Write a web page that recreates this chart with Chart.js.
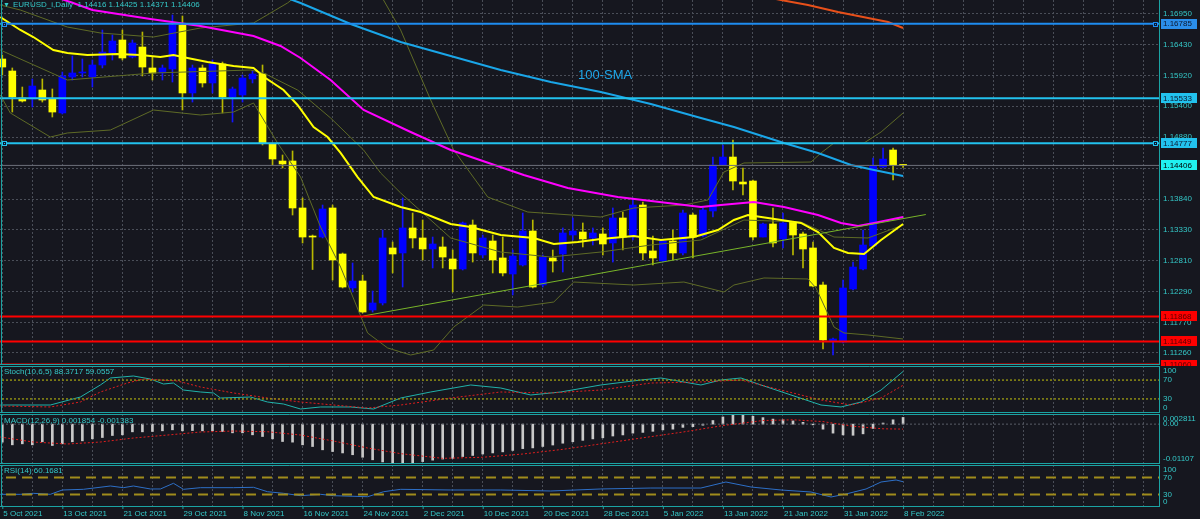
<!DOCTYPE html>
<html lang="en">
<head>
<meta charset="UTF-8">
<title>EURUSD Daily</title>
<script src="https://cdn.jsdelivr.net/npm/chart.js@4.4.1/dist/chart.umd.min.js"></script>
<style>
  html, body { margin: 0; padding: 0; background: #16171f; }
  #wrap { position: relative; width: 1200px; height: 519px; overflow: hidden; background: #16171f;
          font-family: 'Liberation Sans', Arial, sans-serif; }
  canvas { position: absolute; left: 0; }
  .lbl { position: absolute; color: #34c8c8; font-size: 8px; line-height: 10px; white-space: nowrap; }
</style>
</head>
<body>
<div id="wrap">
  <canvas id="main" width="1200" height="366" style="top:0"></canvas>
  <canvas id="stoch" width="1200" height="47" style="top:366px"></canvas>
  <canvas id="macd" width="1200" height="51" style="top:413px"></canvas>
  <canvas id="rsi" width="1200" height="55" style="top:464px"></canvas>
  <div class="lbl" style="left:3px;top:0;font-size:7px">&#9660;</div>
  <div class="lbl" style="left:13px;top:0">EURUSD_i,Daily&nbsp; 1.14416 1.14425 1.14371 1.14406</div>
  <div class="lbl" style="left:578px;top:67px;font-size:13px;line-height:15px;color:#1ea6e8">100-SMA</div>
  <div class="lbl" style="left:4px;top:367px">Stoch(10,6,5) 88.3717 59.0557</div>
  <div class="lbl" style="left:4px;top:416px">MACD(12,26,9) 0.001854 -0.001383</div>
  <div class="lbl" style="left:4px;top:466px">RSI(14) 60.1681</div>
</div>
<script>
// ---- data (bar index 0 = 5 Oct 2021, 90 = 8 Feb 2022) ----
const opens = [1.16194,1.15992,1.15539,1.15522,1.15673,1.15522,1.15287,1.15891,1.15959,1.15891,
  1.16093,1.16295,1.16513,1.16227,1.16395,1.16043,1.15959,1.16026,1.16765,1.15623,
  1.16043,1.15791,1.16110,1.15555,1.15589,1.15858,1.15942,1.14766,1.14480,1.14480,
  1.13691,1.13220,1.13203,1.13691,1.12918,1.12347,1.12464,1.11977,1.12095,1.13019,
  1.12935,1.13355,1.13187,1.13002,1.13036,1.12834,1.12666,1.13405,1.12901,1.13136,
  1.12851,1.12582,1.12733,1.13304,1.12397,1.12851,1.12918,1.13237,1.13287,1.13187,
  1.13254,1.13103,1.13523,1.13203,1.13741,1.12969,1.12800,1.13136,1.12935,1.13573,
  1.13220,1.13640,1.14413,1.14547,1.14127,1.14144,1.13203,1.13422,1.13170,1.13455,
  1.13254,1.13019,1.12397,1.11456,1.11439,1.12330,1.12666,1.13052,1.14379,1.14665,
  1.14416];
const highs = [1.16261,1.16043,1.15723,1.15858,1.15858,1.15690,1.15975,1.16244,1.16194,1.16177,
  1.16681,1.16597,1.16681,1.16513,1.16647,1.16227,1.16093,1.16933,1.16916,1.16093,
  1.16093,1.16177,1.16143,1.15723,1.15925,1.16009,1.16093,1.14783,1.14581,1.14649,
  1.13859,1.13237,1.13741,1.13741,1.12935,1.12767,1.12565,1.12296,1.13321,1.13119,
  1.13859,1.13607,1.13489,1.13203,1.13203,1.12985,1.13455,1.13489,1.13237,1.13237,
  1.13203,1.12985,1.13607,1.13489,1.12901,1.12985,1.13355,1.13523,1.13439,1.13355,
  1.13355,1.13691,1.13623,1.13859,1.13791,1.13220,1.13153,1.13321,1.13657,1.13607,
  1.13691,1.14547,1.14749,1.14833,1.14363,1.14161,1.13439,1.13691,1.13607,1.13455,
  1.13287,1.13119,1.12447,1.11507,1.12481,1.12783,1.13321,1.14531,1.14699,1.14699,
  1.14425];
const lows = [1.15925,1.15303,1.15471,1.15387,1.15471,1.15219,1.15270,1.15841,1.15891,1.15723,
  1.16043,1.16177,1.16177,1.16211,1.15909,1.15841,1.15841,1.15807,1.15337,1.15471,
  1.15723,1.15623,1.15287,1.15135,1.15471,1.15791,1.14749,1.14413,1.14363,1.13573,
  1.13103,1.12657,1.13187,1.12481,1.12347,1.12279,1.11927,1.11943,1.12061,1.12599,
  1.12363,1.13019,1.12817,1.12683,1.12683,1.12279,1.12649,1.12783,1.12851,1.12599,
  1.12549,1.12229,1.12716,1.12347,1.12363,1.12615,1.12615,1.13153,1.13036,1.13069,
  1.12901,1.12783,1.12985,1.13153,1.12817,1.12733,1.12783,1.12817,1.12901,1.12851,
  1.13203,1.13539,1.14413,1.13993,1.13909,1.13153,1.13203,1.13036,1.13019,1.12901,
  1.12683,1.12363,1.11322,1.11221,1.11423,1.12313,1.12649,1.13036,1.14363,1.14161,
  1.14371];
const closes = [1.16059,1.15555,1.15488,1.15740,1.15505,1.15303,1.15909,1.15959,1.15975,1.16093,
  1.16311,1.16496,1.16211,1.16463,1.16059,1.15959,1.16043,1.16765,1.15623,1.16043,
  1.15791,1.16110,1.15555,1.15690,1.15875,1.15942,1.14783,1.14514,1.14430,1.13691,
  1.13203,1.13203,1.13674,1.12817,1.12363,1.12464,1.11943,1.12095,1.13187,1.12918,
  1.13355,1.13187,1.13002,1.13086,1.12867,1.12666,1.13439,1.12935,1.13187,1.12817,
  1.12599,1.12884,1.13304,1.12363,1.12867,1.12800,1.13271,1.13304,1.13170,1.13271,
  1.13086,1.13523,1.13203,1.13741,1.12935,1.12851,1.13136,1.12935,1.13607,1.13203,
  1.13657,1.14413,1.14547,1.14144,1.14094,1.13203,1.13422,1.13103,1.13439,1.13237,
  1.13002,1.12380,1.11473,1.11490,1.12347,1.12699,1.13069,1.14396,1.14513,1.14413,
  1.14406];

// indicator lines: bar index / value pairs
const ma20X = [-0.2,1.8,3.1,5.1,6.5,8.5,11.5,13.8,15.8,17.1,18.5,20.5,23.1,25.1,26.3,28.1,29.5,31.1,32.5,33.8,35.5,37.1,39.8,41.8,44.8,46.8,49.8,53.1,55.1,57.5,59.8,63.1,65.8,69.1,71.5,73.1,74.5,76.5,79.8,81.5,83.1,84.5,86.1,87.8,90];
const ma20Y = [1.16899,1.16681,1.16563,1.16345,1.16295,1.16261,1.16278,1.16261,1.16227,1.16261,1.16211,1.16143,1.16076,1.16043,1.15875,1.15673,1.15421,1.15051,1.14883,1.14615,1.14211,1.13875,1.13707,1.13623,1.13422,1.13371,1.13237,1.13187,1.13086,1.13119,1.13170,1.13220,1.13153,1.13203,1.13321,1.13489,1.13573,1.13523,1.13439,1.13287,1.13019,1.12935,1.12918,1.13153,1.13422];
const sma50X = [3.8,6.8,9.0,14.8,19.8,25.1,27.8,29.8,32.8,36.1,40.8,44.8,52.1,56.5,61.5,66.5,69.8,71.8,75.1,78.1,81.5,83.8,85.5,87.1,90];
const sma50Y = [1.17319,1.17151,1.17017,1.16866,1.16748,1.16580,1.16412,1.16211,1.15841,1.15337,1.14967,1.14665,1.14245,1.14027,1.13875,1.13775,1.13707,1.13741,1.13791,1.13707,1.13573,1.13439,1.13388,1.13439,1.13539];
const sma100X = [26.8,29.8,34.8,39.8,44.8,49.8,54.8,59.8,64.8,69.8,73.1,78.1,81.5,84.8,87.1,90];
const sma100Y = [1.17319,1.17135,1.16782,1.16479,1.16244,1.16009,1.15807,1.15639,1.15438,1.15203,1.15051,1.14783,1.14615,1.14413,1.14329,1.14228];
const sma200X = [75.8,77.8,80.5,83.5,86.5,88.5,90];
const sma200Y = [1.17253,1.17185,1.17101,1.16983,1.16883,1.16815,1.16714];
const bbUpX = [-0.2,1.8,6.5,9.8,15.1,19.8,25.1,28.5,30.8,34.8,37.8,39.8,42.8,45.1,48.5,52.5,59.8,63.1,68.1,70.5,72.1,74.1,80.8,81.8,83.1,86.1,87.8,90];
const bbUpY = [1.17101,1.17017,1.16731,1.16631,1.16563,1.16715,1.16799,1.17135,1.17437,1.17689,1.17269,1.16681,1.15505,1.14665,1.13875,1.13623,1.13539,1.13691,1.13741,1.13825,1.14295,1.14447,1.14463,1.14615,1.14783,1.14783,1.14967,1.15287];
const bbMidX = [-0.2,6.5,15.1,24.8,26.1,29.5,32.8,36.1,37.8,39.8,44.8,49.8,54.8,59.8,64.8,69.8,74.1,79.8,83.1,86.5,90];
const bbMidY = [1.16345,1.15841,1.15959,1.16009,1.15959,1.15673,1.15203,1.14665,1.14279,1.13943,1.13187,1.12951,1.12867,1.12951,1.13069,1.13153,1.13489,1.13455,1.13203,1.13187,1.13405];
const bbLowX = [-0.2,0.8,4.8,6.5,10.8,15.1,19.8,23.1,25.1,27.5,29.8,31.8,33.8,36.5,38.5,40.8,43.1,45.1,48.1,51.5,55.1,57.1,63.1,68.1,72.1,73.1,76.1,80.5,81.3,83.1,84.1,86.5,90];
const bbLowY = [1.15589,1.15287,1.14883,1.14951,1.15001,1.15337,1.15253,1.15303,1.15455,1.14783,1.14211,1.13371,1.12699,1.11591,1.11339,1.11221,1.11305,1.11691,1.12061,1.12027,1.12111,1.12447,1.12397,1.12447,1.12279,1.12397,1.12515,1.12498,1.12347,1.11691,1.11591,1.11557,1.11490];
const trendX = [36.07, 92.27];
const trendY = [1.11876, 1.13581];

const levelBlue = [1.16785];
const levelCyan = [1.15533, 1.14777];
const levelRed = [1.11868, 1.11449, 1.11060];
const lastPrice = 1.14406;
const priceTicks = [1.16950,1.16430,1.15920,1.15400,1.14880,1.14360,1.13840,1.13330,1.12810,1.12290,1.11770,1.11260];

const stochMainX = [-0.2,4.8,7.8,9.8,10.8,13.1,14.8,16.1,17.1,18.1,19.8,21.1,21.8,24.8,26.5,28.1,29.8,31.8,34.8,37.1,39.8,42.8,46.8,49.8,52.8,55.8,59.8,63.8,65.8,69.8,71.8,73.8,75.8,78.8,81.8,83.8,85.8,87.8,90];
const stochMainY = [17,17,34,59.6,74.5,78.7,72.3,61.7,63.8,48.9,44.7,42.6,31.9,34,23.4,19.1,8.5,12.8,12.8,8.5,31.9,44.7,59.6,53.2,38.3,44.7,59.6,70.2,74.5,59.6,70.2,74.5,59.6,38.3,17,12.8,23.4,48.9,88.37];
const stochSigX = [-0.2,4.8,7.8,9.8,12.5,14.1,17.5,19.8,23.1,26.5,29.8,33.1,36.5,39.8,44.8,49.8,54.8,59.8,64.8,69.8,73.8,77.8,81.8,84.8,87.8,90];
const stochSigY = [14.9,12.8,23.4,44.7,63.8,72.3,68.1,55.3,42.6,31.9,23.4,17,10.6,17,31.9,44.7,42.6,48.9,63.8,66,70.2,48.9,27.7,17,31.9,59.06];

const macdHist = [-0.00500,-0.00575,-0.00547,-0.00575,-0.00491,-0.00594,-0.00547,-0.00491,-0.00464,-0.00408,
  -0.00372,-0.00316,-0.00297,-0.00214,-0.00214,-0.00205,-0.00186,-0.00158,-0.00186,-0.00178,
  -0.00186,-0.00186,-0.00205,-0.00242,-0.00242,-0.00297,-0.00344,-0.00408,-0.00483,-0.00500,
  -0.00575,-0.00622,-0.00713,-0.00761,-0.00800,-0.00850,-0.00920,-0.00990,-0.01050,-0.01107,
  -0.01100,-0.01070,-0.01040,-0.01000,-0.00970,-0.00950,-0.00900,-0.00870,-0.00830,-0.00800,
  -0.00770,-0.00730,-0.00680,-0.00660,-0.00620,-0.00580,-0.00530,-0.00490,-0.00450,-0.00410,
  -0.00380,-0.00330,-0.00300,-0.00250,-0.00230,-0.00200,-0.00160,-0.00140,-0.00090,-0.00070,
  -0.00030,0.00100,0.00200,0.00260,0.002811,0.00220,0.00180,0.00140,0.00120,0.00090,
  0.00050,-0.00020,-0.00140,-0.00250,-0.00300,-0.00310,-0.00270,-0.00120,0.00030,0.00120,
  0.001854];
const macdSigX = [-0.2,3.1,6.5,9.8,13.1,16.5,19.8,23.1,26.5,29.8,33.1,36.5,39.8,44,48,52,56,60,64,68,72,76,79,82,85,88,90];
const macdSigY = [-0.00358,-0.00497,-0.00552,-0.00497,-0.00386,-0.00303,-0.00219,-0.00192,-0.00211,-0.00303,-0.00469,-0.00663,-0.00820,-0.00950,-0.00920,-0.00830,-0.00700,-0.00540,-0.00380,-0.00220,-0.00040,0.00100,0.00120,0.00070,-0.00060,-0.00130,-0.001383];

const rsiX = [-0.2,1.8,3.1,4.8,6,8.1,10.8,12.1,13.1,14.8,15.8,17.1,18.1,19.8,23.1,25.1,26.5,28.1,29.8,31.8,33.1,36.5,38.1,39.8,44.8,49.8,54.8,59.8,64.8,69.8,72.3,74.8,77.8,80.8,82.8,84.3,86.3,87.8,89.3,90];
const rsiY = [30.2,30.2,32.6,30.2,40.5,42.1,50,46,50,42.9,42.9,56.4,42.1,46,46,46.9,36.4,32.6,26.9,30.2,26.9,24.5,36.4,42.1,40.5,40.5,38.1,42.9,45.2,45.2,59.5,47.6,40.5,35.7,23.8,31,42.9,59.5,64.3,60.17];

const dateLabels = ['5 Oct 2021','13 Oct 2021','21 Oct 2021','29 Oct 2021','8 Nov 2021','16 Nov 2021','24 Nov 2021',
  '2 Dec 2021','10 Dec 2021','20 Dec 2021','28 Dec 2021','5 Jan 2022','13 Jan 2022','21 Jan 2022','31 Jan 2022','8 Feb 2022'];

// ---- look ----
const BG = '#16171f', GRID = '#4a4e58', FRAME = '#1ba3a3', TXT = '#34c8c8';
const FONT = "8px 'Liberation Sans', Arial, sans-serif";
const X_MIN = -0.23, X_MAX = 115.57;
const gridIdx = [];
for (let i = 0; i <= 114; i += 3) gridIdx.push(i);

const pts = (xs, ys) => xs.map((x, i) => ({ x: x, y: ys[i] }));
const hline = v => [{ x: X_MIN - 1, y: v }, { x: X_MAX + 1, y: v }];

function xScale() {
  return {
    type: 'linear', min: X_MIN, max: X_MAX, offset: false,
    afterBuildTicks: s => { s.ticks = gridIdx.map(v => ({ value: v })); },
    afterFit: s => { s.height = 0; s.paddingLeft = 0; s.paddingRight = 0; },
    grid: { color: GRID, drawTicks: false, offset: false },
    border: { display: false, dash: [2, 2] },
    ticks: { display: false }
  };
}
function yScale(min, max, ticks) {
  return {
    position: 'right', min: min, max: max,
    afterBuildTicks: s => { s.ticks = (ticks || []).map(v => ({ value: v })); },
    afterFit: s => { s.width = 41; s.paddingTop = 0; s.paddingBottom = 0; },
    grid: { display: !!ticks, color: GRID, drawTicks: false },
    border: { display: false, dash: [2, 2] },
    ticks: { display: false }
  };
}

// frame + axis text for every panel
function panelPlugin(opts) {
  return {
    id: 'panel',
    beforeDraw(chart) {
      const c = chart.ctx;
      c.save(); c.fillStyle = BG; c.fillRect(0, 0, chart.width, chart.height); c.restore();
    },
    afterDraw(chart) {
      const c = chart.ctx, a = chart.chartArea, ys = chart.scales.y;
      c.save();
      c.strokeStyle = FRAME; c.lineWidth = 1;
      c.beginPath();
      c.moveTo(1.5, a.top); c.lineTo(1.5, a.bottom);
      c.moveTo(a.right + 0.5, a.top); c.lineTo(a.right + 0.5, a.bottom);
      if (opts.top) { c.moveTo(0, a.top + 0.5); c.lineTo(a.right, a.top + 0.5); }
      c.moveTo(0, a.bottom - 0.5); c.lineTo(a.right + 1, a.bottom - 0.5);
      c.stroke();
      // selection handles on the drawn horizontal lines
      (opts.handles || []).forEach(h => {
        const y = Math.round(ys.getPixelForValue(h[0]));
        c.fillStyle = h[1]; c.strokeStyle = '#0c1830';
        [a.left + 2, a.right - 6].forEach(x => {
          c.fillRect(x, y - 2, 5, 5);
          c.strokeRect(x + 1.5, y - 0.5, 2, 2);
        });
      });
      c.font = FONT; c.textBaseline = 'middle'; c.textAlign = 'left';
      (opts.labels || []).forEach(l => {
        let y = ys.getPixelForValue(l[0]);
        if (opts.clamp) y = Math.min(Math.max(y, a.top + 5), a.bottom - 5);
        c.fillStyle = TXT;
        c.fillText(l[1], a.right + 4, y);
      });
      (opts.boxes || []).forEach(b => {
        const y = ys.getPixelForValue(b[0]);
        c.fillStyle = b[1];
        c.fillRect(a.right + 2, Math.round(y) - 5, 36, 10);
        c.fillStyle = b[2];
        c.fillText(b[0].toFixed(5), a.right + 4, y);
      });
      if (opts.dates) {
        const xs = chart.scales.x;
        c.fillStyle = TXT; c.strokeStyle = FRAME;
        dateLabels.forEach((d, k) => {
          const x = xs.getPixelForValue(k * 6);
          c.beginPath(); c.moveTo(x + 0.5, a.bottom); c.lineTo(x + 0.5, a.bottom + 2); c.stroke();
          c.fillText(d, x + 1, a.bottom + 7);
        });
      }
      c.restore();
    }
  };
}

const base = {
  responsive: false, animation: false, events: [],
  plugins: { legend: { display: false }, tooltip: { enabled: false } },
  elements: { point: { radius: 0 }, line: { tension: 0 } }
};
function lineDs(data, color, width, extra) {
  return Object.assign({ type: 'line', data: data, borderColor: color, borderWidth: width,
    pointRadius: 0, fill: false }, extra || {});
}

// ---- main price panel ----
const idx = closes.map((_, i) => i);
const up = idx.map(i => closes[i] >= opens[i]);
const Y_MAX = 1.17185, Y_MIN = 1.17185 - 0.000168 * 365;

new Chart(document.getElementById('main'), {
  type: 'bar',
  data: {
    datasets: [
      { data: idx.map(i => ({ x: i, y: [lows[i], highs[i]] })), backgroundColor: up.map(u => u ? '#1414ff' : '#b8b800'),
        barThickness: 1, grouped: false, order: 20 },
      { data: idx.map(i => ({ x: i, y: [opens[i], closes[i]] })), backgroundColor: up.map(u => u ? '#0000ff' : '#ffff00'),
        barThickness: 7, minBarLength: 1, grouped: false, order: 19 },
      lineDs(pts(bbUpX, bbUpY), '#5e6a26', 1, { order: 15 }),
      lineDs(pts(bbMidX, bbMidY), '#5e6a26', 1, { order: 15 }),
      lineDs(pts(bbLowX, bbLowY), '#5e6a26', 1, { order: 15 }),
      lineDs(pts(sma200X, sma200Y), '#e8501a', 2, { order: 12 }),
      lineDs(pts(sma100X, sma100Y), '#1aa6e8', 2, { order: 12 }),
      lineDs(pts(sma50X, sma50Y), '#ff00ff', 2, { order: 12 }),
      lineDs(pts(ma20X, ma20Y), '#ffff00', 2, { order: 11 }),
      lineDs(pts(trendX, trendY), '#78b428', 1, { order: 10 }),
      lineDs(hline(lastPrice), '#6c707a', 1, { order: 9 }),
      ...levelCyan.map(v => lineDs(hline(v), '#22c2ee', 2, { order: 8 })),
      ...levelBlue.map(v => lineDs(hline(v), '#1e8cf0', 2, { order: 8 })),
      ...levelRed.map(v => lineDs(hline(v), '#ff0000', 2, { order: 8 }))
    ]
  },
  options: Object.assign({}, base, {
    layout: { padding: { top: 0, bottom: 1, left: 0, right: 0 } },
    scales: { x: xScale(), y: yScale(Y_MIN, Y_MAX, priceTicks) }
  }),
  plugins: [panelPlugin({
    labels: priceTicks.map(v => [v, v.toFixed(5)]),
    handles: [[1.16785, '#1e8cf0'], [1.14777, '#22c2ee']],
    boxes: [[1.16785, '#2b8eea', '#0c1830'], [1.15533, '#22c2ee', '#0c1830'], [1.14777, '#22c2ee', '#0c1830'],
            [lastPrice, '#20f0f0', '#000000'], [1.11868, '#ff0000', '#5a0000'], [1.11449, '#ff0000', '#5a0000'],
            [1.11060, '#ff0000', '#5a0000']]
  })]
});

// ---- stochastic ----
new Chart(document.getElementById('stoch'), {
  type: 'line',
  data: { datasets: [
    lineDs(hline(70), '#8c8c14', 1.5, { borderDash: [2, 2] }),
    lineDs(hline(30), '#8c8c14', 1.5, { borderDash: [2, 2] }),
    lineDs(pts(stochSigX, stochSigY), '#e01e1e', 1, { borderDash: [2, 2] }),
    lineDs(pts(stochMainX, stochMainY), '#20b2aa', 1)
  ] },
  options: Object.assign({}, base, {
    layout: { padding: 0 },
    scales: { x: xScale(), y: yScale(0, 100) }
  }),
  plugins: [panelPlugin({ top: true, clamp: true, labels: [[100, '100'], [70, '70'], [30, '30'], [0, '0']] })]
});

// ---- MACD ----
new Chart(document.getElementById('macd'), {
  type: 'bar',
  data: { datasets: [
    lineDs(hline(0), '#5a5e68', 1, { borderDash: [2, 2], order: 1 }),
    lineDs(pts(macdSigX, macdSigY), '#e01e1e', 1, { borderDash: [2, 2], order: 0 }),
    { data: idx.map(i => ({ x: i, y: macdHist[i] })), backgroundColor: '#c8c8c8', barThickness: 2, order: 2 }
  ] },
  options: Object.assign({}, base, {
    layout: { padding: { top: 1, bottom: 0, left: 0, right: 0 } },
    scales: { x: xScale(), y: yScale(-0.01107, 0.002811) }
  }),
  plugins: [panelPlugin({ top: true, clamp: true, labels: [[0.002811, '0.002811'], [0, '0.00'], [-0.01107, '-0.01107']] })]
});

// ---- RSI + time axis ----
const rsiX_scale = xScale();
rsiX_scale.afterFit = s => { s.height = 12; s.paddingLeft = 0; s.paddingRight = 0; };
new Chart(document.getElementById('rsi'), {
  type: 'line',
  data: { datasets: [
    lineDs(hline(70), '#a08c1c', 2, { borderDash: [10, 6] }),
    lineDs(hline(30), '#a08c1c', 2, { borderDash: [10, 6] }),
    lineDs(pts(rsiX, rsiY), '#2d6fc7', 1)
  ] },
  options: Object.assign({}, base, {
    layout: { padding: { top: 1, bottom: 0, left: 0, right: 0 } },
    scales: { x: rsiX_scale, y: yScale(0, 100) }
  }),
  plugins: [panelPlugin({ top: true, clamp: true, dates: true, labels: [[100, '100'], [70, '70'], [30, '30'], [0, '0']] })]
});
</script>
</body>
</html>
